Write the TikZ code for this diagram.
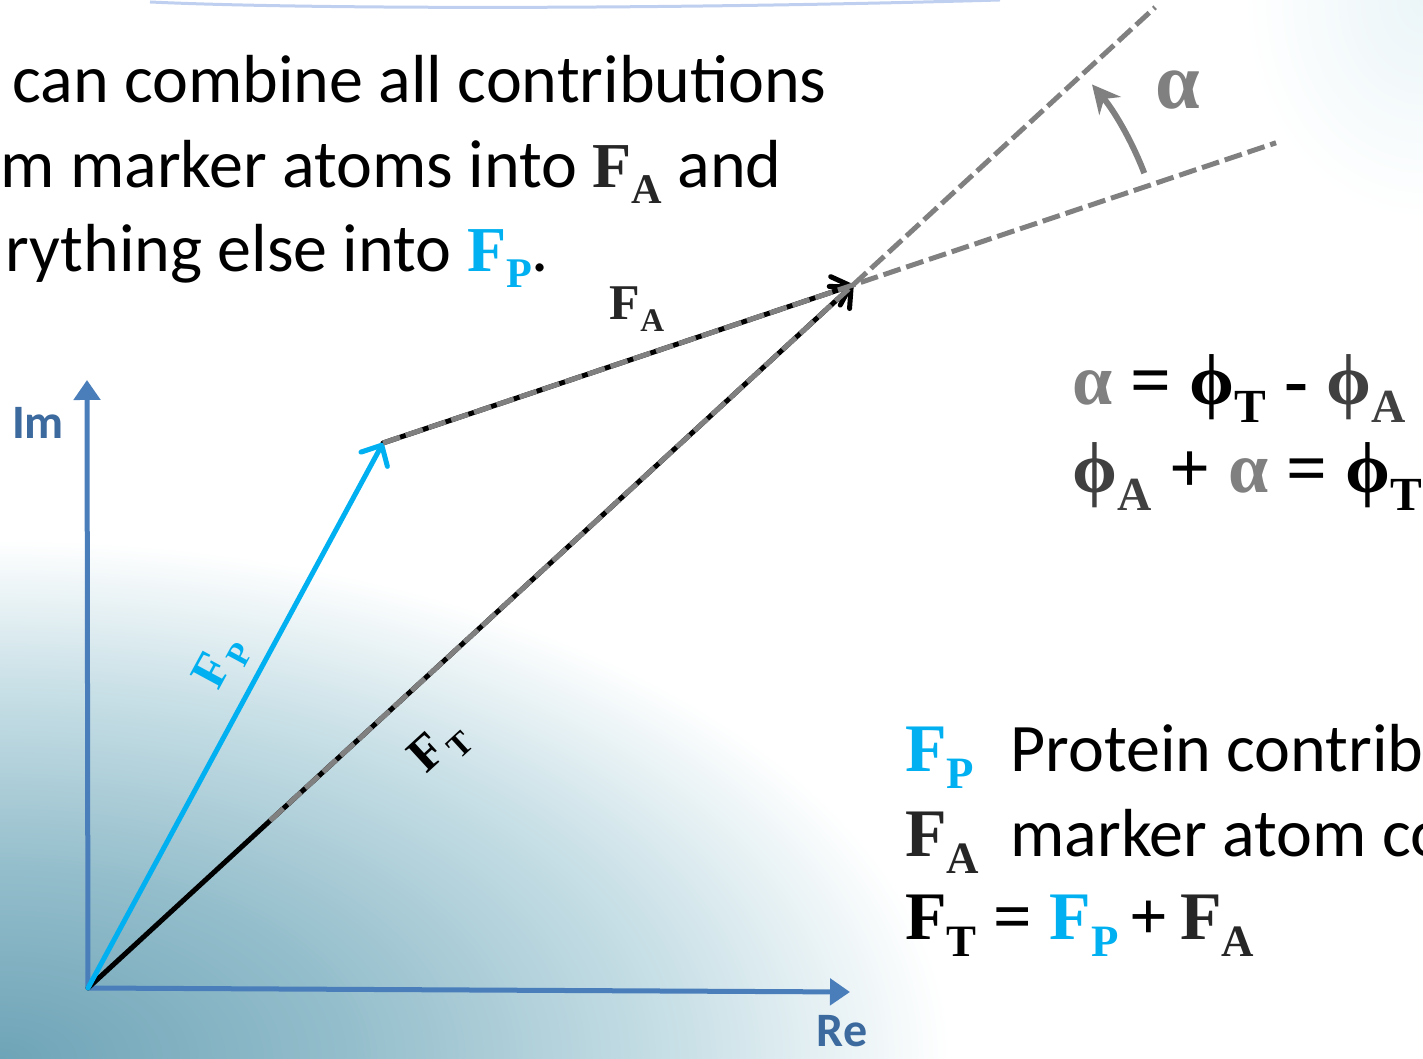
\documentclass[tikz,border=0pt]{standalone}
\usepackage{fontspec}
\setmainfont{Carlito}
\newfontfamily\tnr{Liberation Serif}
\usetikzlibrary{
    arrows.meta,
    calc,
    positioning
}
\definecolor{fpcyan}{HTML}{00B0F0}
\definecolor{axisblue}{HTML}{4A7EBB}
\definecolor{lblblue}{HTML}{3C6A9E}
\definecolor{anglegray}{HTML}{808080}
\definecolor{fadark}{HTML}{262626}
\definecolor{phidark}{HTML}{404040}
\definecolor{bgteal}{HTML}{6EA4B7}
\definecolor{bgmid}{HTML}{93BDCB}
\definecolor{bglight}{HTML}{C9E0E7}
\definecolor{hazeblue}{HTML}{EBF5F8}
\definecolor{topedge}{HTML}{A3BBE8}
\pgfdeclareradialshading{cornerfade}{\pgfpoint{0bp}{0bp}}{color(0bp)=(bgteal); color(9bp)=(bgmid); color(18bp)=(bglight); color(25bp)=(white); color(50bp)=(white)}
\pgfdeclareradialshading{cornerhaze}{\pgfpoint{0bp}{0bp}}{color(0bp)=(hazeblue); color(25bp)=(white); color(50bp)=(white)}
\newcommand{\vF}[2][32]{{\tnr\bfseries\fontsize{#1}{#1}\selectfont F\raisebox{-0.25em}{\scalebox{0.66}{#2}}}}
\newcommand{\phisub}[1]{ϕ\raisebox{-0.25em}{\scalebox{0.66}{#1}}}
\tikzstyle{vector}=[line width=2.5pt,line cap=round,-{Straight Barb[length=8pt,width=15pt,round]}]

\begin{document}
\begin{tikzpicture}[
    x=0.5pt, y=0.5pt,
    every node/.style={inner sep=0pt},
    body/.style={font=\fontsize{34}{40}\selectfont, anchor=base west},
    serif/.style={font=\tnr\bfseries\fontsize{36}{36}\selectfont, anchor=base west},
    axis/.style={draw=axisblue, line width=2.5pt, -{Triangle[length=10pt,width=13pt]}},
    axislabel/.style={font=\bfseries\fontsize{24}{24}\selectfont, text=lblblue},
    graydash/.style={draw=anglegray, line width=2.5pt, dash pattern=on 9pt off 3pt},
    anglearrow/.style={draw=anglegray, line width=3pt, -{Stealth[length=14pt,width=14pt]}}
]
\useasboundingbox (0,0) rectangle (1423,1059);
% background
\begin{scope}
\clip (0,0) rectangle (1423,1059);
\shade[shading=cornerfade] (-950,-520) rectangle (950,520);
\shade[shading=cornerhaze] (1243,839) rectangle (1603,1279);
\end{scope}
\draw[topedge, line width=1.5pt, opacity=0.7] (150,1057) .. controls (300,1050) and (650,1049) .. (1000,1059);

% points
\coordinate (o) at (88,71);
\coordinate (imtip) at (87,679);
\coordinate (retip) at (850,67);
\coordinate (p) at (383,616);
\coordinate (t) at (853,774);
\coordinate (q) at ($(o)!0.238!(t)$);
\coordinate (e1) at ($(o)!1.395!(t)$);
\coordinate (e2) at ($(p)!1.9!(t)$);

% axes
\draw[axis] (o) -- (imtip);
\draw[axis] (o) -- (retip);
\node[axislabel] (im) at (38,636) {Im};
\node[axislabel] (re) at (842,28) {Re};

% vectors
\draw[vector, draw=black] (o) -- (t);
\draw[vector, draw=black] (p) -- (t);
\draw[vector, draw=fpcyan] (o) -- (p);
\draw[graydash] (q) -- (e1);
\draw[graydash] (p) -- (e2);
\draw[anglearrow] ($(t)+(21:312)$) arc[start angle=21, end angle=40, radius=312];

% vector labels
\node[rotate=61.6, text=fpcyan] (lp) at (222,396) {\vF[25]{\kern2pt P}};
\node[rotate=42.6] (lt) at (440,311) {\vF[25]{\kern2pt T}};
\node[text=fadark] (la) at (637,750) {\vF[25]{A}};
\node[font=\tnr\bfseries\fontsize{40}{40}\selectfont, text=anglegray] (al) at (1178,969) {α};

% text
\node[body] (l1) at (12,956) {can combine all contributions};
\node[body] (l2) at (0,871) {m marker atoms into {\color{fadark}\vF{A}} and};
\node[body] (l3) at (5,787) {rything else into {\color{fpcyan}\vF{P}}.};

% equations
\node[serif] (eq1) at (1072,654) {{\color{anglegray}α} = \phisub{T} - {\color{phidark}\phisub{A}}};
\node[serif] (eq2) at (1072,566) {{\color{phidark}\phisub{A}} + {\color{anglegray}α} = \phisub{T}};

% legend
\node[anchor=base west, text=fpcyan] (kp) at (905,287) {\vF[34]{P}};
\node[body] (kptxt) at (1010,287) {Protein contrib};
\node[anchor=base west, text=fadark] (ka) at (905,202) {\vF[34]{A}};
\node[body] (katxt) at (1010,202) {marker atom co};
\node[anchor=base west, font=\tnr\bfseries\fontsize{34}{34}\selectfont] (kt) at (905,119)
    {\vF[34]{T} = {\color{fpcyan}\vF[34]{P}}\,+\,{\color{fadark}\vF[34]{A}}};
\end{tikzpicture}
\end{document}
